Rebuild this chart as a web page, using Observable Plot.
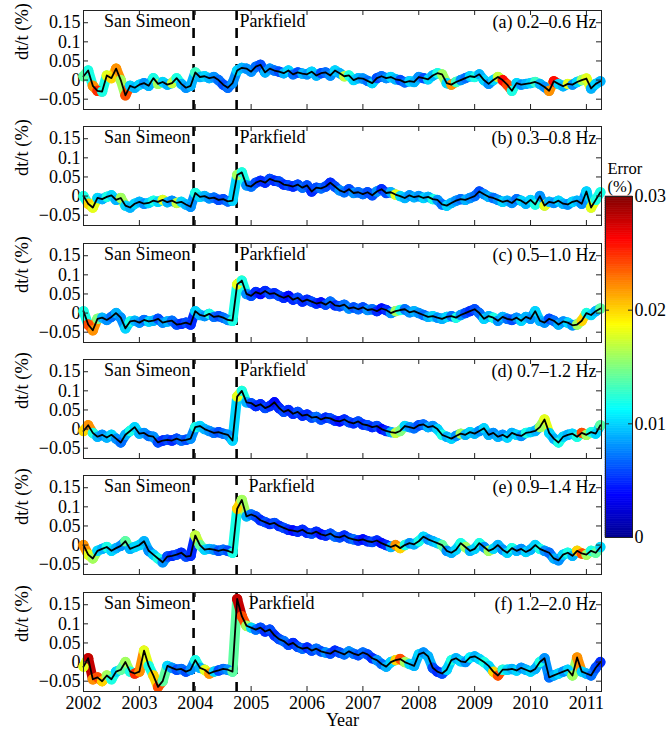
<!DOCTYPE html>
<html><head><meta charset="utf-8">
<script src="https://cdn.jsdelivr.net/npm/d3@7"></script>
<script src="https://cdn.jsdelivr.net/npm/@observablehq/plot@0.6"></script>
<style>
body{margin:0;background:#fff;}
#chart{position:relative;width:668px;height:731px;font-family:"Liberation Serif","Times New Roman",serif;}
#chart svg{position:absolute;}
#chart svg text{font-family:"Liberation Serif","Times New Roman",serif !important;}
</style></head><body><div id="chart"></div>
<script>
// sampling: monthly, starting Jan 2002
const startYear = 2002, stepYear = 1 / 12;
const sanSimeon = 2003.97, parkfield = 2004.74;
const yearTicks = [2002, 2003, 2004, 2005, 2006, 2007, 2008, 2009, 2010, 2011];
const yTicks = [-0.05, 0, 0.05, 0.1, 0.15];
const cbTicks = [0, 0.01, 0.02, 0.03];
const bandLabels = ["(a) 0.2–0.6 Hz", "(b) 0.3–0.8 Hz", "(c) 0.5–1.0 Hz", "(d) 0.7–1.2 Hz", "(e) 0.9–1.4 Hz", "(f) 1.2–2.0 Hz"];

// dt/t (%) per panel, one value per month 2002.0 ... 2011.25
const dtA = [
 0.01, 0.025, -0.015, -0.028, -0.03, 0.012, 0.005, 0.03, 0.0, -0.04, -0.015, -0.02,
 -0.012, -0.008, -0.015, 0.005, -0.01, -0.005, -0.012, -0.008, 0.005, -0.01, -0.02, -0.015,
 0.02, 0.008, 0.01, 0.005, 0.008, 0.0, -0.012, -0.02, -0.008, 0.025, 0.032, 0.03,
 0.022, 0.035, 0.04, 0.02, 0.03, 0.025, 0.022, 0.018, 0.025, 0.015, 0.02, 0.017,
 0.015, 0.022, 0.012, 0.018, 0.02, 0.012, 0.025, 0.018, 0.01, 0.012, 0.0, 0.005,
 0.004, -0.002, -0.008, 0.005, 0.01, 0.005, 0.008, 0.002, 0.0, -0.006, -0.003, -0.005,
 0.008, 0.005, 0.002, 0.012, 0.018, 0.015, -0.008, -0.012, -0.005, 0.0, 0.005, 0.01,
 0.008, 0.015, 0.0, -0.01, 0.0, 0.008, 0.0, -0.012, -0.028, -0.008, -0.012, -0.01,
 -0.008, -0.005, -0.01, -0.018, -0.028, -0.003, -0.01, -0.016, -0.01, -0.012, -0.005, 0.0,
 0.004, -0.022, -0.01, -0.003];
const dtB = [
 0.0, -0.02, -0.03, -0.005, -0.008, -0.002, 0.002, -0.01, -0.005, -0.025, -0.03, -0.02,
 -0.015, -0.02, -0.018, -0.012, -0.015, -0.01, -0.016, -0.012, -0.018, -0.015, -0.022, -0.028,
 0.008, -0.002, 0.0, -0.006, -0.004, -0.01, -0.008, -0.014, -0.012, 0.055, 0.062, 0.028,
 0.025, 0.035, 0.04, 0.035, 0.045, 0.04, 0.038, 0.03, 0.028, 0.025, 0.03, 0.022,
 0.028, 0.012, 0.022, 0.02, 0.025, 0.035, 0.025, 0.015, 0.01, 0.018, 0.008, 0.01,
 0.005, 0.01, 0.002, 0.012, 0.018, 0.008, 0.01, 0.004, 0.0, -0.005, 0.002, -0.003,
 0.0, -0.005, -0.002, -0.008, -0.01, -0.022, -0.025, -0.018, -0.012, -0.008, -0.01, -0.005,
 0.0, 0.012, 0.005, -0.002, -0.005, -0.01, -0.015, -0.012, -0.018, -0.008, -0.012, -0.02,
 -0.01, -0.022, 0.0, -0.025, -0.015, -0.018, -0.012, -0.02, -0.022, -0.015, -0.012, -0.02,
 0.012, -0.03, -0.01, 0.01];
const dtC = [
 0.005, -0.03, -0.045, -0.015, -0.012, -0.018, -0.01, 0.0, -0.012, -0.04, -0.022, -0.02,
 -0.025, -0.018, -0.022, -0.02, -0.015, -0.025, -0.022, -0.02, -0.03, -0.028, -0.025, -0.03,
 0.005, -0.005, -0.008, -0.002, -0.01, -0.008, -0.012, -0.018, -0.02, 0.075, 0.085, 0.05,
 0.045, 0.055, 0.05, 0.058, 0.05, 0.052, 0.045, 0.04, 0.045, 0.035, 0.04, 0.03,
 0.035, 0.03, 0.025, 0.028, 0.022, 0.03, 0.02, 0.018, 0.022, 0.012, 0.015, 0.01,
 0.015, 0.008, 0.01, 0.005, 0.012, 0.008, 0.0, 0.005, 0.008, 0.01, 0.002, 0.005,
 0.0, -0.005, -0.01, -0.008, -0.012, -0.015, -0.01, -0.008, -0.012, -0.005, 0.0, 0.005,
 0.01, 0.0, -0.015, -0.008, -0.012, -0.02, -0.01, -0.015, -0.018, -0.012, -0.02, -0.01,
 -0.015, 0.005, -0.02, -0.025, -0.015, -0.02, -0.03, -0.022, -0.025, -0.032, -0.03, -0.02,
 0.0, -0.005, 0.005, 0.012];
const dtD = [
 -0.005, 0.01, -0.01, -0.02, -0.015, -0.022, -0.015, -0.025, -0.035, -0.015, -0.005, 0.005,
 -0.012, -0.01, -0.018, -0.02, -0.035, -0.03, -0.028, -0.03, -0.025, -0.03, -0.028, -0.025,
 0.005, 0.008, 0.0, -0.005, -0.01, -0.008, -0.012, -0.015, -0.03, 0.085, 0.1, 0.07,
 0.068, 0.06, 0.065, 0.055, 0.06, 0.07, 0.055, 0.045, 0.05, 0.04, 0.045, 0.035,
 0.038, 0.03, 0.032, 0.025, 0.03, 0.028, 0.022, 0.02, 0.025, 0.018, 0.015, 0.02,
 0.012, 0.01, 0.005, 0.008, 0.0, -0.005, -0.008, -0.01, -0.005, 0.008, 0.005, 0.002,
 0.01, 0.012, 0.005, 0.008, 0.0, -0.015, -0.02, -0.025, -0.018, -0.012, -0.015, -0.008,
 -0.012, -0.005, 0.002, -0.015, -0.01, -0.02, -0.015, -0.022, -0.01, -0.015, -0.018, -0.01,
 -0.008, -0.005, 0.005, 0.025, -0.01, -0.025, -0.035, -0.02, -0.015, -0.012, -0.02, -0.01,
 -0.015, -0.008, -0.012, 0.01];
const dtE = [
 0.0, -0.025, -0.035, -0.015, -0.01, -0.005, -0.015, -0.008, -0.002, 0.01, -0.01, -0.005,
 0.0, 0.01, -0.015, -0.025, -0.035, -0.045, -0.03, -0.028, -0.025, -0.02, -0.03, -0.028,
 0.025, 0.0, -0.012, -0.01, -0.012, -0.015, -0.012, -0.015, -0.02, 0.095, 0.118, 0.075,
 0.08, 0.075, 0.065, 0.06, 0.055, 0.058, 0.05, 0.045, 0.04, 0.038, 0.035, 0.04,
 0.032, 0.03, 0.035, 0.028, 0.025, 0.03, 0.022, 0.02, 0.025, 0.018, 0.015, 0.012,
 0.015, 0.01, 0.008, 0.012, 0.005, 0.0, -0.005, 0.0, -0.008, 0.0, 0.005, 0.002,
 0.01, 0.022, 0.015, 0.01, 0.005, 0.0, -0.015, -0.02, -0.012, 0.005, -0.005, -0.015,
 -0.01, 0.005, -0.005, -0.015, -0.01, 0.0, -0.012, -0.02, -0.008, -0.015, -0.01, -0.018,
 -0.012, 0.0, -0.01, -0.015, -0.02, -0.035, -0.04, -0.025, -0.02, -0.028, -0.015, -0.022,
 -0.025, -0.015, -0.02, -0.005];
const dtF = [
 -0.012, 0.01, -0.045, -0.04, -0.05, -0.035, -0.045, -0.025, -0.02, 0.0, -0.025, -0.03,
 -0.025, 0.03, -0.01, -0.035, -0.065, -0.05, -0.01, -0.015, -0.02, -0.018, -0.025, -0.02,
 0.005, -0.015, -0.02, -0.03, -0.025, -0.022, -0.018, -0.02, -0.025, 0.165, 0.12, 0.095,
 0.09, 0.085, 0.09, 0.08, 0.085, 0.07, 0.06, 0.055, 0.045, 0.05, 0.04, 0.035,
 0.038, 0.03, 0.035, 0.028, 0.025, 0.022, 0.03, 0.025, 0.02, 0.028, 0.022, 0.018,
 0.025, 0.02, 0.01, 0.005, -0.005, -0.012, 0.0, 0.005, 0.008, 0.0, -0.005, -0.01,
 0.02, 0.025, 0.015, -0.015, -0.025, -0.03, -0.02, 0.005, 0.01, 0.002, 0.0, 0.012,
 0.015, 0.008, 0.0, -0.01, -0.025, -0.035, -0.02, -0.02, -0.018, -0.022, -0.015, -0.02,
 -0.025, -0.018, 0.0, 0.01, -0.04, -0.035, -0.03, -0.025, -0.02, -0.035, 0.012, -0.025,
 -0.03, -0.035, -0.015, 0.0];

// error (%) per point
const errA = [
 0.014, 0.012, 0.022, 0.025, 0.012, 0.018, 0.02, 0.022, 0.016, 0.024, 0.01, 0.009,
 0.01, 0.008, 0.009, 0.012, 0.016, 0.01, 0.009, 0.017, 0.012, 0.009, 0.008, 0.009,
 0.013, 0.009, 0.01, 0.009, 0.008, 0.007, 0.006, 0.007, 0.008, 0.01, 0.009, 0.008,
 0.008, 0.007, 0.006, 0.009, 0.008, 0.007, 0.006, 0.009, 0.01, 0.007, 0.006, 0.009,
 0.008, 0.01, 0.009, 0.006, 0.007, 0.008, 0.01, 0.009, 0.017, 0.012, 0.01, 0.009,
 0.008, 0.007, 0.01, 0.006, 0.007, 0.008, 0.01, 0.009, 0.006, 0.007, 0.01, 0.009,
 0.008, 0.006, 0.01, 0.009, 0.012, 0.016, 0.01, 0.022, 0.013, 0.008, 0.007, 0.01,
 0.012, 0.009, 0.01, 0.008, 0.01, 0.017, 0.026, 0.024, 0.012, 0.01, 0.008, 0.009,
 0.01, 0.013, 0.009, 0.008, 0.022, 0.026, 0.01, 0.009, 0.018, 0.008, 0.01, 0.016,
 0.018, 0.009, 0.01, 0.009];
const errB = [
 0.012, 0.02, 0.018, 0.01, 0.009, 0.012, 0.01, 0.009, 0.016, 0.01, 0.009, 0.01,
 0.009, 0.008, 0.01, 0.012, 0.01, 0.018, 0.009, 0.008, 0.017, 0.01, 0.009, 0.008,
 0.012, 0.01, 0.009, 0.008, 0.007, 0.006, 0.006, 0.007, 0.01, 0.016, 0.012, 0.008,
 0.007, 0.006, 0.005, 0.005, 0.006, 0.005, 0.006, 0.005, 0.006, 0.005, 0.006, 0.007,
 0.006, 0.005, 0.006, 0.007, 0.006, 0.005, 0.006, 0.008, 0.007, 0.006, 0.008, 0.007,
 0.007, 0.006, 0.006, 0.008, 0.005, 0.006, 0.009, 0.018, 0.01, 0.009, 0.008, 0.009,
 0.008, 0.01, 0.009, 0.012, 0.008, 0.007, 0.01, 0.009, 0.008, 0.007, 0.009, 0.008,
 0.007, 0.006, 0.008, 0.009, 0.007, 0.008, 0.01, 0.009, 0.008, 0.007, 0.01, 0.009,
 0.01, 0.012, 0.008, 0.018, 0.009, 0.008, 0.01, 0.009, 0.008, 0.01, 0.009, 0.008,
 0.01, 0.018, 0.012, 0.012];
const errC = [
 0.012, 0.024, 0.022, 0.015, 0.009, 0.008, 0.007, 0.009, 0.008, 0.01, 0.012, 0.009,
 0.008, 0.007, 0.01, 0.009, 0.006, 0.008, 0.009, 0.007, 0.006, 0.005, 0.006, 0.005,
 0.01, 0.009, 0.008, 0.012, 0.007, 0.006, 0.007, 0.008, 0.012, 0.018, 0.012, 0.008,
 0.006, 0.005, 0.004, 0.005, 0.006, 0.005, 0.006, 0.005, 0.004, 0.005, 0.006, 0.005,
 0.005, 0.006, 0.005, 0.004, 0.006, 0.007, 0.005, 0.006, 0.007, 0.008, 0.006, 0.007,
 0.006, 0.008, 0.007, 0.005, 0.004, 0.005, 0.008, 0.016, 0.012, 0.007, 0.008, 0.009,
 0.008, 0.007, 0.009, 0.01, 0.008, 0.009, 0.01, 0.007, 0.012, 0.008, 0.006, 0.005,
 0.006, 0.007, 0.01, 0.009, 0.012, 0.008, 0.009, 0.007, 0.006, 0.008, 0.01, 0.009,
 0.008, 0.01, 0.009, 0.008, 0.006, 0.007, 0.009, 0.008, 0.01, 0.008, 0.016, 0.02,
 0.012, 0.01, 0.009, 0.014];
const errD = [
 0.02, 0.022, 0.012, 0.009, 0.008, 0.009, 0.01, 0.008, 0.007, 0.009, 0.012, 0.01,
 0.009, 0.008, 0.007, 0.008, 0.006, 0.005, 0.006, 0.005, 0.006, 0.007, 0.006, 0.008,
 0.012, 0.01, 0.009, 0.008, 0.007, 0.006, 0.007, 0.008, 0.01, 0.018, 0.012, 0.009,
 0.006, 0.005, 0.005, 0.006, 0.005, 0.004, 0.005, 0.006, 0.005, 0.005, 0.006, 0.005,
 0.005, 0.006, 0.007, 0.006, 0.005, 0.006, 0.005, 0.004, 0.005, 0.006, 0.005, 0.006,
 0.005, 0.006, 0.005, 0.006, 0.004, 0.005, 0.009, 0.017, 0.015, 0.01, 0.008, 0.007,
 0.006, 0.007, 0.009, 0.008, 0.01, 0.012, 0.009, 0.01, 0.008, 0.016, 0.009, 0.01,
 0.009, 0.008, 0.01, 0.009, 0.008, 0.009, 0.008, 0.01, 0.009, 0.01, 0.008, 0.012,
 0.01, 0.009, 0.016, 0.018, 0.01, 0.009, 0.012, 0.01, 0.009, 0.01, 0.012, 0.024,
 0.016, 0.012, 0.01, 0.014];
const errE = [
 0.022, 0.018, 0.016, 0.01, 0.009, 0.012, 0.01, 0.009, 0.008, 0.014, 0.009, 0.01,
 0.01, 0.009, 0.008, 0.01, 0.012, 0.008, 0.006, 0.005, 0.006, 0.005, 0.006, 0.005,
 0.017, 0.014, 0.01, 0.009, 0.008, 0.006, 0.007, 0.006, 0.012, 0.02, 0.016, 0.009,
 0.007, 0.006, 0.005, 0.006, 0.005, 0.006, 0.005, 0.006, 0.005, 0.004, 0.005, 0.005,
 0.005, 0.006, 0.005, 0.004, 0.005, 0.006, 0.007, 0.006, 0.005, 0.006, 0.007, 0.005,
 0.004, 0.005, 0.006, 0.005, 0.004, 0.005, 0.009, 0.022, 0.02, 0.012, 0.008, 0.009,
 0.012, 0.01, 0.008, 0.009, 0.01, 0.014, 0.008, 0.009, 0.01, 0.012, 0.016, 0.009,
 0.01, 0.012, 0.008, 0.016, 0.01, 0.009, 0.008, 0.01, 0.012, 0.009, 0.008, 0.01,
 0.009, 0.01, 0.012, 0.008, 0.007, 0.009, 0.008, 0.01, 0.012, 0.009, 0.02, 0.024,
 0.016, 0.012, 0.014, 0.01];
const errF = [
 0.018, 0.028, 0.022, 0.024, 0.02, 0.016, 0.012, 0.01, 0.014, 0.016, 0.012, 0.025,
 0.022, 0.018, 0.012, 0.02, 0.024, 0.014, 0.01, 0.008, 0.006, 0.007, 0.006, 0.008,
 0.012, 0.009, 0.018, 0.022, 0.01, 0.006, 0.007, 0.008, 0.014, 0.028, 0.024, 0.016,
 0.01, 0.007, 0.006, 0.005, 0.006, 0.005, 0.006, 0.007, 0.006, 0.005, 0.006, 0.007,
 0.005, 0.006, 0.007, 0.006, 0.008, 0.006, 0.005, 0.006, 0.007, 0.008, 0.007, 0.006,
 0.007, 0.006, 0.005, 0.008, 0.007, 0.009, 0.01, 0.02, 0.024, 0.016, 0.01, 0.009,
 0.01, 0.008, 0.009, 0.006, 0.005, 0.006, 0.01, 0.012, 0.009, 0.01, 0.008, 0.011,
 0.009, 0.01, 0.012, 0.01, 0.02, 0.024, 0.012, 0.01, 0.009, 0.01, 0.008, 0.009,
 0.01, 0.009, 0.012, 0.008, 0.007, 0.009, 0.01, 0.008, 0.01, 0.016, 0.022, 0.01,
 0.009, 0.007, 0.006, 0.005];

// jet colormap for error (0 .. 0.03 %)
const errDomain = [0, 0.00375, 0.01125, 0.01875, 0.02625, 0.03];
const jet = ["#00008f", "#0000ff", "#00ffff", "#ffff00", "#ff0000", "#800000"];

const panels = [
  {dt: dtA, err: errA, label: bandLabels[0], pfDx: 3},
  {dt: dtB, err: errB, label: bandLabels[1], pfDx: 3},
  {dt: dtC, err: errC, label: bandLabels[2], pfDx: 3},
  {dt: dtD, err: errD, label: bandLabels[3], pfDx: 3},
  {dt: dtE, err: errE, label: bandLabels[4], pfDx: 12},
  {dt: dtF, err: errF, label: bandLabels[5], pfDx: 12}
];

const chart = document.getElementById("chart");
const FONT = "'Liberation Serif', 'Times New Roman', serif";
const FRAME_H = 99, FRAME_W = 518, MT = 6;
const yFmt = d => d === 0 ? "0" : (d < 0 ? "\u2212" : "") + String(Math.abs(d));
const colorOpts = {type: "linear", domain: errDomain, range: jet, clamp: true};

panels.forEach((p, k) => {
  const last = k === panels.length - 1;
  const pts = p.dt.map((v, i) => ({t: startYear + i * stepYear, v, e: p.err[i]}));
  const segs = pts.slice(0, -1).map((d, i) => ({x1: d.t, y1: d.v, x2: pts[i + 1].t, y2: pts[i + 1].v, e: d.e}));
  const MB = last ? 40 : 6;
  const svg = Plot.plot({
    width: 668, height: FRAME_H + MT + MB,
    marginLeft: 83, marginRight: 67, marginTop: MT, marginBottom: MB,
    style: {fontFamily: FONT, fontSize: "18px", background: "transparent", overflow: "visible", color: "#000"},
    x: {domain: [2002, 2011.27], axis: last ? "bottom" : null, ticks: yearTicks, tickSize: 0, tickPadding: 5, tickFormat: d => String(d), label: null},
    y: {domain: [-0.077, 0.182], ticks: yTicks, tickSize: 0, tickPadding: 3, tickFormat: yFmt, label: null},
    color: colorOpts,
    marks: [
      Plot.ruleX([sanSimeon, parkfield], {x: d => d, stroke: "#000", strokeWidth: 2.6, strokeDasharray: "10,8"}),
      Plot.link(segs, {x1: "x1", y1: "y1", x2: "x2", y2: "y2", stroke: "e", strokeWidth: 10, strokeLinecap: "round"}),
      Plot.dot(pts, {x: "t", y: "v", r: 5.2, fill: "e"}),
      Plot.line(pts, {x: "t", y: "v", stroke: "#000", strokeWidth: 1.8}),
      Plot.frame({stroke: "#222"}),
      Plot.tickX(yearTicks, {x: d => d, insetTop: FRAME_H - 5, stroke: "#222"}),
      Plot.tickX(yearTicks, {x: d => d, insetBottom: FRAME_H - 5, stroke: "#222"}),
      Plot.tickY(yTicks, {y: d => d, insetRight: FRAME_W - 5, stroke: "#222"}),
      Plot.tickY(yTicks, {y: d => d, insetLeft: FRAME_W - 5, stroke: "#222"}),
      Plot.text([sanSimeon], {x: d => d, text: () => "San Simeon", frameAnchor: "top", dy: 11, dx: -3, textAnchor: "end", lineAnchor: "middle", fontSize: 18}),
      Plot.text([parkfield], {x: d => d, text: () => "Parkfield", frameAnchor: "top", dy: 11, dx: p.pfDx, textAnchor: "start", lineAnchor: "middle", fontSize: 18}),
      Plot.text([p.label], {text: d => d, frameAnchor: "top-right", dy: 12, dx: -5, textAnchor: "end", lineAnchor: "middle", fontSize: 18}),
      Plot.text(["dt/t (%)"], {text: d => d, frameAnchor: "left", dx: -61, rotate: -90, fontSize: 18.5}),
      ...(last ? [Plot.text(["Year"], {text: d => d, frameAnchor: "bottom", dy: 29, lineAnchor: "middle", fontSize: 18})] : [])
    ]
  });
  svg.style.left = "0px";
  svg.style.top = (Math.round(10 + k * 116.33) - MT) + "px";
  chart.appendChild(svg);
});

// colorbar
const cbStep = 0.0002;
const cbStops = d3.range(0, 0.03, cbStep);
const cb = Plot.plot({
  width: 68, height: 400,
  marginLeft: 5, marginRight: 36, marginTop: 46, marginBottom: 13,
  style: {fontFamily: FONT, fontSize: "18px", background: "transparent", overflow: "visible", color: "#000"},
  x: {domain: [0, 1], axis: null},
  y: {domain: [0, 0.03], axis: "right", ticks: cbTicks, tickSize: 0, tickPadding: 2, tickFormat: d => d === 0 ? "0" : d.toFixed(2), label: null},
  color: colorOpts,
  marks: [
    Plot.rect(cbStops, {x1: 0, x2: 1, y1: d => d, y2: d => d + cbStep, fill: d => d + cbStep / 2, stroke: d => d + cbStep / 2, strokeWidth: 0.6}),
    Plot.frame({stroke: "#222"}),
    Plot.tickY([0.01, 0.02], {y: d => d, insetLeft: 23, stroke: "#222"}),
    Plot.tickY([0.01, 0.02], {y: d => d, insetRight: 23, stroke: "#222"}),
    Plot.text(["Error"], {text: d => d, frameAnchor: "top-left", dx: 2, dy: -28, textAnchor: "start", lineAnchor: "middle", fontSize: 16.5}),
    Plot.text(["(%)"], {text: d => d, frameAnchor: "top-left", dx: 2, dy: -10, textAnchor: "start", lineAnchor: "middle", fontSize: 16.5})
  ]
});
cb.style.left = "600px";
cb.style.top = "150px";
chart.appendChild(cb);
</script></body></html>
